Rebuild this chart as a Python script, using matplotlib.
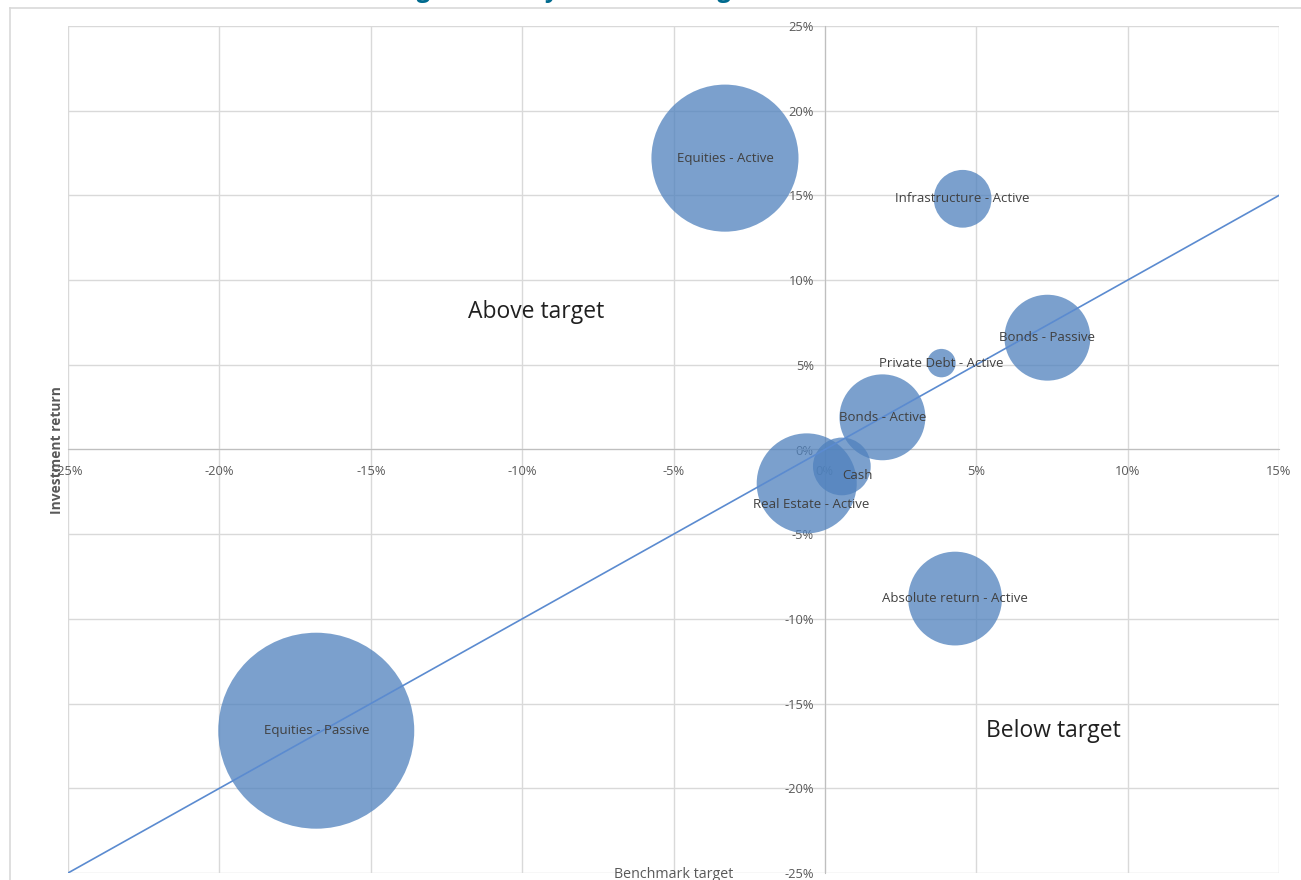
import matplotlib.pyplot as plt
import numpy as np
from matplotlib.ticker import PercentFormatter, MultipleLocator
from matplotlib.lines import Line2D

# data (percent)
assets = ["Equities - Active", "Infrastructure - Active", "Bonds - Passive",
          "Private Debt - Active", "Bonds - Active", "Cash",
          "Real Estate - Active", "Absolute return - Active", "Equities - Passive"]
benchmark = [-3.3, 4.55, 7.35, 3.85, 1.9, 0.56, -0.6, 4.3, -16.8]
returns = [17.2, 14.8, 6.6, 5.1, 1.9, -1.0, -2.0, -8.8, -16.6]
weights = [21.4, 3.3, 7.3, 0.8, 7.3, 3.3, 9.9, 8.7, 38.0]
target_line = [-25, 15]

# label nudges in points (only a couple of labels are moved)
label_offsets = {"Cash": (11.5, -6.5), "Real Estate - Active": (3.5, -15)}

plt.rcParams['font.family'] = ['Open Sans', 'DejaVu Sans']
plt.rcParams['axes.unicode_minus'] = False

fig = plt.figure(figsize=(13.01, 8.80), dpi=100)
ax = fig.add_axes([68 / 1301, 1 - 873 / 880, (1279 - 68) / 1301, (873 - 26) / 880])

bubble_scale = 524
ax.scatter(benchmark, returns, s=np.array(weights) * bubble_scale,
           color='#4f81bd', alpha=0.75, linewidths=0, zorder=3)

# y = x benchmark line
ax.plot(target_line, target_line, color='#5b8bd0', lw=1.2, zorder=4)

for name, bx, ry in zip(assets, benchmark, returns):
    off = label_offsets.get(name, (0, 0))
    ax.annotate(name, (bx, ry), xytext=off, textcoords='offset points',
                ha='center', va='center', fontsize=9.5, color='#404040', zorder=5)

ax.set_xlim(-25, 15)
ax.set_ylim(-25, 25)
ax.xaxis.set_major_locator(MultipleLocator(5))
ax.yaxis.set_major_locator(MultipleLocator(5))
ax.xaxis.set_major_formatter(PercentFormatter(100, decimals=0))
ax.yaxis.set_major_formatter(PercentFormatter(100, decimals=0))

ax.grid(True, color='#d9d9d9', lw=1, zorder=0)
ax.set_axisbelow(True)
for side in ['top', 'right']:
    ax.spines[side].set_visible(False)
ax.spines['left'].set_position(('data', 0))
ax.spines['bottom'].set_position(('data', 0))
ax.spines['left'].set_color('#bfbfbf')
ax.spines['bottom'].set_color('#bfbfbf')
ax.tick_params(length=0, labelsize=9.3, labelcolor='#595959')
ax.tick_params(axis='x', pad=11)
ax.tick_params(axis='y', pad=8)

# region labels
ax.text(-9.55, 8.1, "Above target", fontsize=16.5, color='#202020', ha='center', va='center')
ax.text(7.55, -16.6, "Below target", fontsize=16.5, color='#202020', ha='center', va='center')

# axis titles placed as in the source chart
fig.text(57 / 1301, 1 - 450 / 880, "Investment return", rotation=90, ha='center', va='center',
         fontsize=9.9, fontweight='bold', color='#595959')
fig.text(674 / 1301, 1 - 874 / 880, "Benchmark target", ha='center', va='center',
         fontsize=10.3, color='#595959')

# cut-off title at the very top
fig.text(353 / 1301, 1 + 3 / 880, "Strong returns by sector vs. target", ha='left', va='baseline',
         fontsize=17, fontweight='bold', color='#006a8e')

# outer chart border
fig.add_artist(Line2D([10 / 1301, 1], [1 - 8 / 880, 1 - 8 / 880], color='#d9d9d9', lw=1.2))
fig.add_artist(Line2D([10 / 1301, 10 / 1301], [0, 1 - 8 / 880], color='#d9d9d9', lw=1.2))

fig.savefig('out.png', dpi=100)
